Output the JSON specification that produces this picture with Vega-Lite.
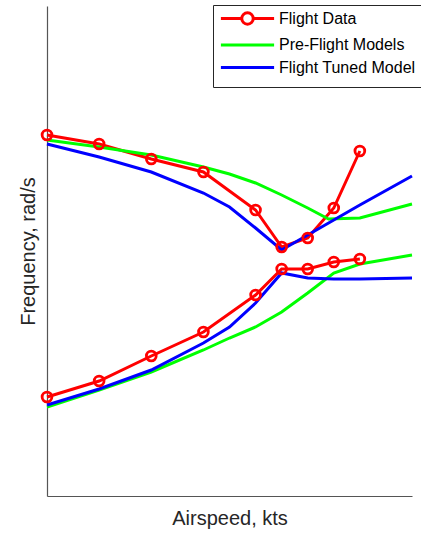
{
  "$schema": "https://vega.github.io/schema/vega-lite/v6.json",
  "autosize": "none",
  "width": 365,
  "height": 490,
  "padding": {"left": 47, "top": 6, "right": 9, "bottom": 37},
  "background": "white",
  "config": {
    "view": {"stroke": null},
    "font": "Liberation Sans",
    "axis": {"domainColor": "#555555", "domainWidth": 1.2, "ticks": false, "labels": false, "grid": false, "titleFont": "Liberation Sans", "titleFontWeight": "normal", "titleFontSize": 20, "titleColor": "#262626"}
  },
  "data": {
    "values": [
      {"series": "Flight Data", "branch": "upper", "x": 0, "y": 361},
      {"series": "Flight Data", "branch": "upper", "x": 2, "y": 352},
      {"series": "Flight Data", "branch": "upper", "x": 4, "y": 337},
      {"series": "Flight Data", "branch": "upper", "x": 6, "y": 324},
      {"series": "Flight Data", "branch": "upper", "x": 8, "y": 286},
      {"series": "Flight Data", "branch": "upper", "x": 9, "y": 249},
      {"series": "Flight Data", "branch": "upper", "x": 10, "y": 258},
      {"series": "Flight Data", "branch": "upper", "x": 11, "y": 288},
      {"series": "Flight Data", "branch": "upper", "x": 12, "y": 345},
      {"series": "Flight Data", "branch": "lower", "x": 0, "y": 99},
      {"series": "Flight Data", "branch": "lower", "x": 2, "y": 115},
      {"series": "Flight Data", "branch": "lower", "x": 4, "y": 140},
      {"series": "Flight Data", "branch": "lower", "x": 6, "y": 164},
      {"series": "Flight Data", "branch": "lower", "x": 8, "y": 201},
      {"series": "Flight Data", "branch": "lower", "x": 9, "y": 227},
      {"series": "Flight Data", "branch": "lower", "x": 10, "y": 227},
      {"series": "Flight Data", "branch": "lower", "x": 11, "y": 234},
      {"series": "Flight Data", "branch": "lower", "x": 12, "y": 237},
      {"series": "Pre-Flight Models", "branch": "upper", "x": 0, "y": 356},
      {"series": "Pre-Flight Models", "branch": "upper", "x": 2, "y": 349},
      {"series": "Pre-Flight Models", "branch": "upper", "x": 4, "y": 341},
      {"series": "Pre-Flight Models", "branch": "upper", "x": 6, "y": 329},
      {"series": "Pre-Flight Models", "branch": "upper", "x": 7, "y": 322},
      {"series": "Pre-Flight Models", "branch": "upper", "x": 8, "y": 313},
      {"series": "Pre-Flight Models", "branch": "upper", "x": 9, "y": 301},
      {"series": "Pre-Flight Models", "branch": "upper", "x": 10, "y": 288},
      {"series": "Pre-Flight Models", "branch": "upper", "x": 10.8, "y": 277},
      {"series": "Pre-Flight Models", "branch": "upper", "x": 12, "y": 278},
      {"series": "Pre-Flight Models", "branch": "upper", "x": 14, "y": 292},
      {"series": "Pre-Flight Models", "branch": "lower", "x": 0, "y": 89},
      {"series": "Pre-Flight Models", "branch": "lower", "x": 2, "y": 106},
      {"series": "Pre-Flight Models", "branch": "lower", "x": 4, "y": 124},
      {"series": "Pre-Flight Models", "branch": "lower", "x": 6, "y": 146},
      {"series": "Pre-Flight Models", "branch": "lower", "x": 7, "y": 158},
      {"series": "Pre-Flight Models", "branch": "lower", "x": 8, "y": 169},
      {"series": "Pre-Flight Models", "branch": "lower", "x": 9, "y": 184},
      {"series": "Pre-Flight Models", "branch": "lower", "x": 10, "y": 203},
      {"series": "Pre-Flight Models", "branch": "lower", "x": 11, "y": 223},
      {"series": "Pre-Flight Models", "branch": "lower", "x": 12, "y": 232},
      {"series": "Pre-Flight Models", "branch": "lower", "x": 14, "y": 241},
      {"series": "Flight Tuned Model", "branch": "upper", "x": 0, "y": 352},
      {"series": "Flight Tuned Model", "branch": "upper", "x": 2, "y": 339},
      {"series": "Flight Tuned Model", "branch": "upper", "x": 4, "y": 324},
      {"series": "Flight Tuned Model", "branch": "upper", "x": 6, "y": 303},
      {"series": "Flight Tuned Model", "branch": "upper", "x": 7, "y": 289},
      {"series": "Flight Tuned Model", "branch": "upper", "x": 8, "y": 268},
      {"series": "Flight Tuned Model", "branch": "upper", "x": 9, "y": 246},
      {"series": "Flight Tuned Model", "branch": "upper", "x": 10, "y": 261},
      {"series": "Flight Tuned Model", "branch": "upper", "x": 11, "y": 276},
      {"series": "Flight Tuned Model", "branch": "upper", "x": 12, "y": 291},
      {"series": "Flight Tuned Model", "branch": "upper", "x": 14, "y": 320},
      {"series": "Flight Tuned Model", "branch": "lower", "x": 0, "y": 91},
      {"series": "Flight Tuned Model", "branch": "lower", "x": 2, "y": 107},
      {"series": "Flight Tuned Model", "branch": "lower", "x": 4, "y": 126},
      {"series": "Flight Tuned Model", "branch": "lower", "x": 6, "y": 153},
      {"series": "Flight Tuned Model", "branch": "lower", "x": 7, "y": 169},
      {"series": "Flight Tuned Model", "branch": "lower", "x": 8, "y": 193},
      {"series": "Flight Tuned Model", "branch": "lower", "x": 9, "y": 223},
      {"series": "Flight Tuned Model", "branch": "lower", "x": 10, "y": 218},
      {"series": "Flight Tuned Model", "branch": "lower", "x": 11, "y": 217},
      {"series": "Flight Tuned Model", "branch": "lower", "x": 12, "y": 217},
      {"series": "Flight Tuned Model", "branch": "lower", "x": 14, "y": 218}
    ]
  },
  "encoding": {
    "x": {"field": "x", "type": "quantitative", "scale": {"domain": [0, 14], "nice": false, "zero": false}, "axis": {"title": "Airspeed, kts", "titlePadding": 12}},
    "y": {"field": "y", "type": "quantitative", "scale": {"domain": [0, 490], "nice": false, "zero": false}, "axis": {"title": "Frequency, rad/s", "titlePadding": 9}},
    "color": {"field": "series", "type": "nominal", "scale": {"domain": ["Flight Data", "Pre-Flight Models", "Flight Tuned Model"], "range": ["#ff0000", "#00ff00", "#0000ff"]}}
  },
  "layer": [
    {
      "mark": {"type": "point", "filled": false, "opacity": 0, "strokeWidth": 3},
      "encoding": {
        "shape": {"field": "series", "type": "nominal", "scale": {"domain": ["Flight Data", "Pre-Flight Models", "Flight Tuned Model"], "range": ["M-3.8,0H-0.82M0.82,0H3.8M0.82,0A0.82,0.82 0 1 1 -0.82,0A0.82,0.82 0 1 1 0.82,0", "M-3.8,0H3.8", "M-3.8,0H3.8"]}, "legend": {"title": " ", "titleOrient": "bottom", "titleFontSize": 4, "titlePadding": 2, "orient": "none", "legendX": 166, "legendY": -1, "symbolSize": 196, "symbolStrokeWidth": 3, "symbolOpacity": 1, "symbolOffset": 21, "labelOffset": 23, "labelFontSize": 16, "labelFont": "Liberation Sans", "labelColor": "#000000", "rowPadding": 5.5, "padding": 5, "strokeColor": "#262626", "fillColor": "white", "cornerRadius": 0}},
        "color": {"field": "series", "type": "nominal", "legend": {"title": " ", "titleOrient": "bottom", "titleFontSize": 4, "titlePadding": 2, "orient": "none", "legendX": 166, "legendY": -1, "symbolSize": 196, "symbolStrokeWidth": 3, "symbolOpacity": 1, "symbolOffset": 21, "labelOffset": 23, "labelFontSize": 16, "labelFont": "Liberation Sans", "labelColor": "#000000", "rowPadding": 5.5, "padding": 5, "strokeColor": "#262626", "fillColor": "white", "cornerRadius": 0}}
      }
    },
    {
      "mark": {"type": "line", "strokeWidth": 3},
      "encoding": {
        "detail": {"field": "branch"},
        "color": {"field": "series", "type": "nominal", "legend": null}
      }
    },
    {
      "transform": [{"filter": "datum.series === 'Flight Data'"}],
      "mark": {"type": "point", "filled": false, "strokeWidth": 2.8, "size": 95, "opacity": 1},
      "encoding": {
        "color": {"field": "series", "type": "nominal", "legend": null}
      }
    }
  ]
}
